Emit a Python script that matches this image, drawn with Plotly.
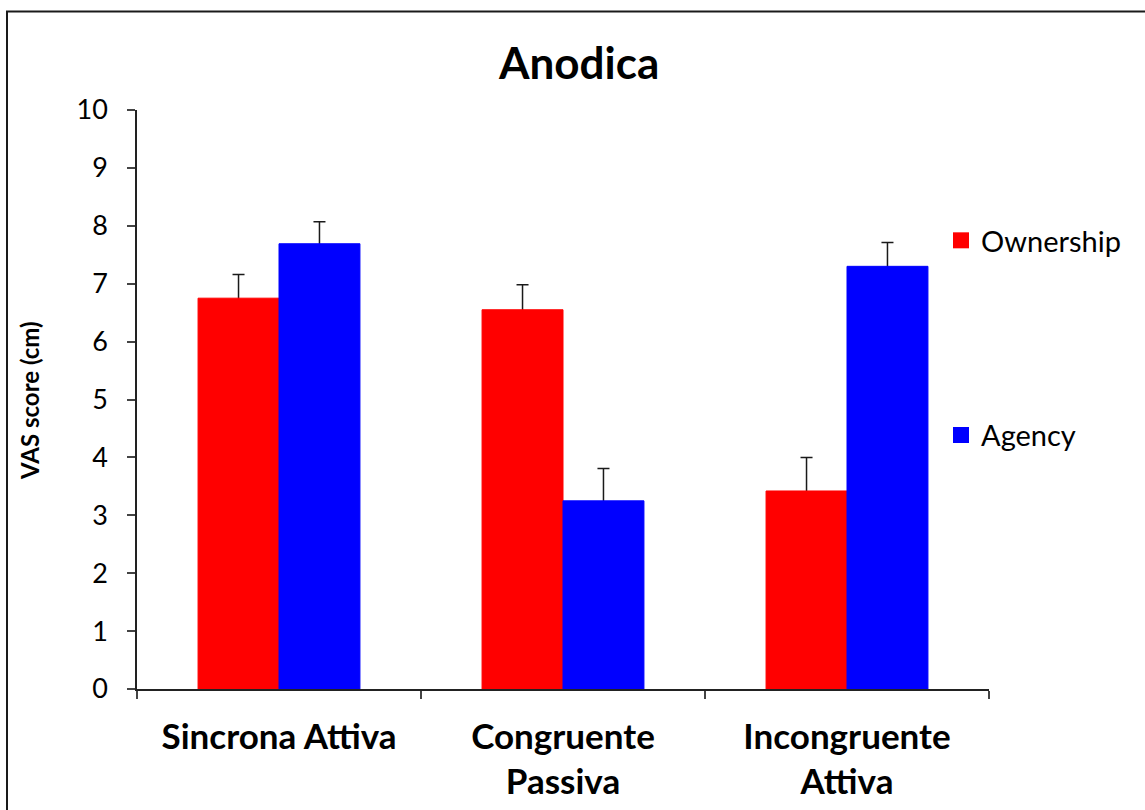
import plotly.graph_objects as go

categories = ["Sincrona Attiva", "Congruente<br>Passiva", "Incongruente<br>Attiva"]
ownership = [6.75, 6.55, 3.42]
ownership_err = [0.41, 0.43, 0.58]
agency = [7.69, 3.25, 7.30]
agency_err = [0.38, 0.56, 0.41]
y_ticks = [0, 1, 2, 3, 4, 5, 6, 7, 8, 9, 10]

FONT = "Lato"
RED = "#ff0000"
BLUE = "#0000ff"
ERRC = "#1a1a1a"

fig = go.Figure()
# error bars first (transparent bars, symmetric so the lower half and its cap
# fall inside the bar), then the coloured bars drawn on top
for vals, errs, grp in [(ownership, ownership_err, "o"), (agency, agency_err, "a")]:
    fig.add_trace(go.Bar(
        x=categories, y=vals, offsetgroup=grp, showlegend=False, hoverinfo="skip",
        marker=dict(color="rgba(0,0,0,0)", line=dict(width=0)),
        error_y=dict(type="data", array=errs, symmetric=True,
                     color=ERRC, thickness=1.5, width=6),
    ))
for vals, grp, col, name in [(ownership, "o", RED, "Ownership"), (agency, "a", BLUE, "Agency")]:
    fig.add_trace(go.Bar(
        x=categories, y=vals, offsetgroup=grp, name=name, showlegend=False,
        marker=dict(color=col, line=dict(color=col, width=1)),
    ))
# legend entries
for col, name, grp in [(RED, "Ownership", "o"), (BLUE, "Agency", "a")]:
    fig.add_trace(go.Scatter(
        x=[None], y=[None], mode="markers", name=name, legendgroup=grp,
        marker=dict(symbol="square", size=17, color=col),
    ))

fig.update_layout(
    width=1145, height=810,
    margin=dict(l=137, r=156, t=110, b=121),
    paper_bgcolor="white", plot_bgcolor="white",
    barmode="group", bargap=0.43, bargroupgap=0,
    font=dict(family=FONT, color="black"),
    showlegend=True,
    legend=dict(x=(941 - 137) / 852, y=0.8187, xanchor="left", yanchor="top",
                font=dict(family=FONT, size=29, color="black"),
                tracegroupgap=154, itemwidth=30, bgcolor="rgba(0,0,0,0)"),
    xaxis=dict(
        showline=True, linecolor="#222", linewidth=1.5,
        ticks="outside", tickson="boundaries", ticklen=8, tickcolor="#444", tickwidth=1.5,
        tickfont=dict(family=FONT, size=35, color="black", weight="bold"),
        ticklabelstandoff=16, automargin=False,
        showgrid=False, zeroline=False,
    ),
    yaxis=dict(
        range=[0, 10], tickvals=y_ticks, ticktext=[str(v) for v in y_ticks],
        showline=True, linecolor="#222", linewidth=1.5,
        ticks="outside", ticklen=8, tickcolor="#444", tickwidth=1.5,
        tickfont=dict(family=FONT, size=27, color="black"),
        ticklabelstandoff=14, automargin=False,
        showgrid=False, zeroline=False,
    ),
    annotations=[
        dict(text="<b>Anodica</b>", x=(578 - 137) / 852, y=(689 - 62) / 579,
             xref="paper", yref="paper", showarrow=False,
             xanchor="center", yanchor="middle",
             font=dict(family=FONT, size=44, color="black")),
        dict(text="<b>VAS score (cm)</b>", x=(30 - 137) / 852, y=(689 - 400) / 579,
             xref="paper", yref="paper", showarrow=False, textangle=-90,
             xanchor="center", yanchor="middle",
             font=dict(family=FONT, size=24, color="black")),
    ],
    shapes=[
        dict(type="rect", xref="paper", yref="paper",
             x0=(7 - 137) / 852, x1=(1160 - 137) / 852,
             y0=(689 - 830) / 579, y1=(689 - 11.5) / 579,
             line=dict(color="#1a1a1a", width=2), fillcolor="rgba(0,0,0,0)", layer="below"),
    ],
)

fig.write_html("out.html")
